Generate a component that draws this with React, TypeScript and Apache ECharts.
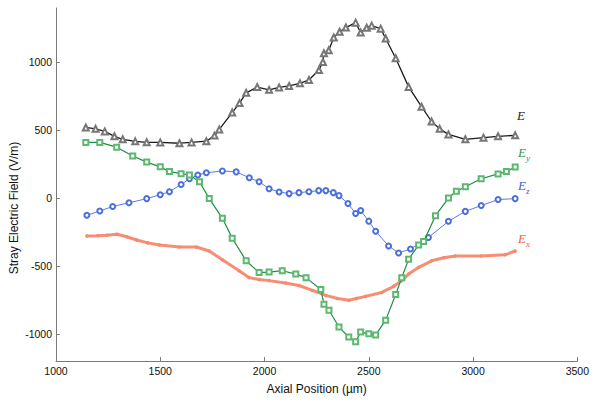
import React, { useEffect, useRef } from "react";
import * as echarts from "echarts";

const xTicks = [1000, 1500, 2000, 2500, 3000, 3500];
const yTicks = [-1000, -500, 0, 500, 1000];

const seriesE: [number, number][] = [
  [1143, 520], [1190, 510], [1234, 491], [1280, 455], [1320, 433], [1380, 418], [1435, 411],
  [1500, 410], [1592, 404], [1650, 410], [1721, 419], [1760, 460], [1783, 506], [1845, 630],
  [1880, 700], [1912, 775], [1965, 818], [2022, 797], [2070, 815], [2118, 826], [2170, 845],
  [2213, 870], [2261, 943], [2280, 1002], [2285, 1066], [2308, 1088], [2332, 1183], [2360, 1225],
  [2390, 1256], [2437, 1292], [2461, 1220], [2490, 1255], [2514, 1270], [2557, 1248], [2581, 1175],
  [2629, 1030], [2691, 819], [2753, 673], [2801, 564], [2840, 510], [2882, 469], [2963, 433],
  [3050, 445], [3120, 455], [3202, 462],
];

const seriesEy: [number, number][] = [
  [1143, 410], [1210, 410], [1291, 375], [1368, 310], [1435, 265], [1500, 230], [1544, 195],
  [1600, 180], [1640, 170], [1688, 120], [1735, -4], [1798, -149], [1845, -295], [1912, -462],
  [1974, -549], [2022, -545], [2085, -535], [2150, -560], [2199, -586], [2270, -673], [2285, -782],
  [2309, -826], [2357, -950], [2404, -1023], [2437, -1059], [2461, -986], [2500, -1000],
  [2533, -1008], [2581, -899], [2629, -710], [2658, -586], [2691, -450], [2739, -346],
  [2763, -320], [2820, -130], [2882, 0], [2920, 50], [2963, 84], [3039, 142], [3120, 178],
  [3160, 195], [3202, 229],
];

const seriesEz: [number, number][] = [
  [1148, -127], [1210, -95], [1272, -62], [1350, -35], [1435, -4], [1500, 25], [1544, 47],
  [1600, 100], [1640, 142], [1680, 170], [1721, 186], [1798, 200], [1864, 193], [1927, 150],
  [1974, 120], [2022, 69], [2070, 45], [2118, 33], [2165, 40], [2213, 47], [2260, 55],
  [2294, 55], [2330, 40], [2357, 18], [2400, -40], [2437, -113], [2461, -91], [2500, -170],
  [2533, -244], [2595, -353], [2643, -404], [2700, -375], [2786, -290], [2882, -171],
  [2963, -98], [3039, -55], [3120, -11], [3202, -4],
];

const seriesEx: [number, number][] = [
  [1148, -280], [1200, -277], [1244, -273], [1291, -266], [1340, -285], [1387, -309],
  [1440, -330], [1497, -346], [1592, -360], [1673, -360], [1735, -390], [1798, -455],
  [1878, -535], [1927, -586], [1974, -600], [2022, -608], [2100, -625], [2165, -644],
  [2230, -680], [2294, -717], [2350, -740], [2404, -753], [2440, -740], [2485, -724],
  [2562, -695], [2620, -650], [2658, -608], [2691, -560], [2740, -510], [2801, -462],
  [2860, -440], [2915, -426], [3039, -426], [3154, -418], [3202, -390],
];

const sansFont = "'Liberation Sans', Arial, Helvetica, sans-serif";
const serifFont = "'Liberation Serif', 'DejaVu Serif', serif";

export default function App() {
  const ref = useRef<HTMLDivElement>(null);

  useEffect(() => {
    if (!ref.current) return;
    const chart = echarts.init(ref.current, undefined, { renderer: "svg" });

    const labelRich = (color: string) => ({
      m: { fontFamily: serifFont, fontStyle: "italic", fontSize: 13, fill: color, color },
      s: { fontFamily: serifFont, fontStyle: "italic", fontSize: 9, fill: color, color, padding: [10, 0, 0, 0] },
    });

    chart.setOption({
      animation: false,
      backgroundColor: "#ffffff",
      grid: { left: 56, right: 13, top: 8, bottom: 35 },
      xAxis: {
        type: "value",
        min: xTicks[0],
        max: xTicks[xTicks.length - 1],
        interval: 500,
        name: "Axial Position (\u00b5m)",
        nameLocation: "middle",
        nameGap: 22,
        nameTextStyle: { fontFamily: sansFont, fontSize: 12, color: "#111" },
        axisLine: { show: true, onZero: false, lineStyle: { color: "#7a7a7a", width: 1 } },
        axisTick: { show: true, inside: true, length: 4, lineStyle: { color: "#7a7a7a" } },
        axisLabel: {
          fontFamily: sansFont, fontSize: 10.5, color: "#111", margin: 4,
          formatter: (v: number) => String(v),
        },
        splitLine: { show: false },
      },
      yAxis: {
        type: "value",
        min: -1200,
        max: 1400,
        axisLine: { show: true, onZero: false, lineStyle: { color: "#7a7a7a", width: 1 } },
        axisTick: { show: true, inside: true, length: 4, customValues: yTicks, lineStyle: { color: "#7a7a7a" } },
        axisLabel: {
          fontFamily: sansFont, fontSize: 10.5, color: "#111", margin: 4, customValues: yTicks,
          formatter: (v: number) => String(v),
        },
        splitLine: { show: false },
      },
      series: [
        {
          name: "Ex",
          type: "line",
          data: seriesEx,
          symbol: "circle",
          symbolSize: 3.5,
          itemStyle: { color: "#f58a6e" },
          lineStyle: { color: "#f47a5c", width: 3, opacity: 0.85 },
          z: 2,
        },
        {
          name: "Ez",
          type: "line",
          data: seriesEz,
          symbol: "emptyCircle",
          symbolSize: 5,
          itemStyle: { color: "#4a6fdc", borderWidth: 1 },
          lineStyle: { color: "#5a7ee0", width: 1 },
          z: 3,
        },
        {
          name: "Ey",
          type: "line",
          data: seriesEy,
          symbol: "emptyRect",
          symbolSize: 5,
          itemStyle: { color: "#5cb870", borderWidth: 0.9 },
          lineStyle: { color: "#1f8e45", width: 1.2 },
          z: 4,
        },
        {
          name: "E",
          type: "line",
          data: seriesE,
          symbol: "emptyTriangle",
          symbolSize: 6,
          itemStyle: { color: "#777777", borderWidth: 0.7 },
          lineStyle: { color: "#1a1a1a", width: 1.3 },
          z: 5,
        },
      ],
      graphic: [
        {
          type: "text",
          x: 14,
          y: 208,
          rotation: Math.PI / 2,
          style: {
            text: "Stray Electric Field (V/m)",
            fontFamily: sansFont,
            fontSize: 12,
            fill: "#111",
            align: "center",
            verticalAlign: "middle",
          },
        },
        {
          type: "text",
          left: 517,
          top: 109,
          style: { text: "{m|E}", rich: labelRich("#222222") },
        },
        {
          type: "text",
          left: 518,
          top: 146,
          style: { text: "{m|E}{s|y}", rich: labelRich("#2a9a4a") },
        },
        {
          type: "text",
          left: 518,
          top: 179,
          style: { text: "{m|E}{s|z}", rich: labelRich("#3d62d6") },
        },
        {
          type: "text",
          left: 518,
          top: 232,
          style: { text: "{m|E}{s|x}", rich: labelRich("#f0603e") },
        },
      ],
    });

    return () => chart.dispose();
  }, []);

  return (
    <div
      ref={ref}
      style={{ position: "fixed", left: 0, top: 0, width: 592, height: 400, background: "#fff" }}
    />
  );
}
